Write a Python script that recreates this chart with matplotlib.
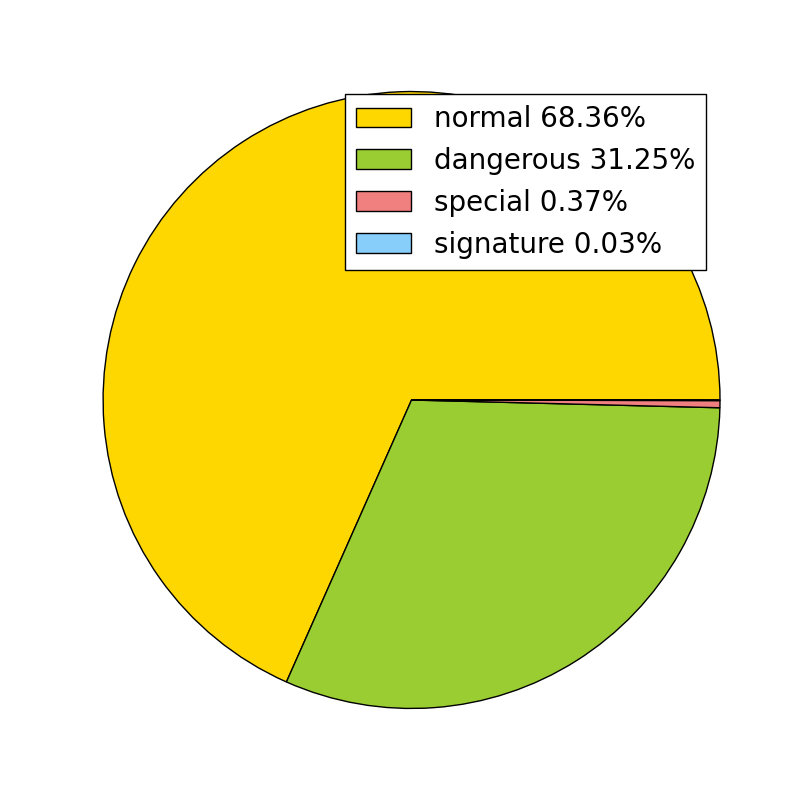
import matplotlib.pyplot as plt

labels = ['normal', 'dangerous', 'special', 'signature']
shares = [68.36, 31.25, 0.37, 0.03]
colors = ['gold', 'yellowgreen', 'lightcoral', 'lightskyblue']

fig = plt.figure(figsize=(8, 8), dpi=100, facecolor='w')
ax = fig.add_axes([0.125, 0.1, 0.775, 0.8])

wedges, _ = ax.pie(shares, colors=colors, startangle=0, counterclock=True,
                   wedgeprops={'edgecolor': 'black', 'linewidth': 1.0})
ax.set_aspect('equal', adjustable='datalim')
ax.set_xlim(-1.01, 1.0)
ax.set_ylim(-1, 1)
ax.set_axis_off()

legend_labels = ['%s %.2f%%' % (l, s) for l, s in zip(labels, shares)]
leg = ax.legend(wedges, legend_labels, loc='upper right', fontsize=20,
                fancybox=False, shadow=False, framealpha=1,
                borderpad=0.4, labelspacing=0.5, handlelength=2,
                handleheight=0.7, handletextpad=0.8, borderaxespad=0.5)
leg.get_frame().set_edgecolor('black')
leg.get_frame().set_linewidth(1.0)

fig.savefig('out.png', dpi=100)
